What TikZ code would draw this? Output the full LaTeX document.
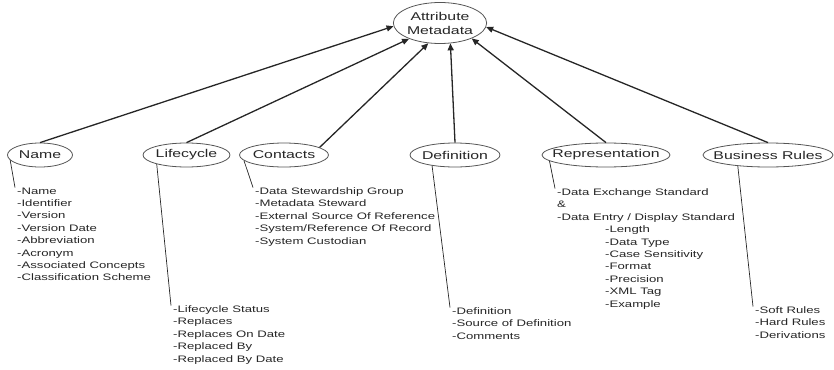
\documentclass[tikz,border=0pt]{standalone}
\usepackage{fontspec}
\setmainfont{Liberation Sans}[FakeStretch=1.4]
\usetikzlibrary{shapes.geometric,arrows.meta}
\definecolor{inkgray}{HTML}{262626}
\definecolor{rimgray}{HTML}{555555}
\newcommand{\ellabel}[1]{\makebox[0pt]{#1}}

\begin{document}
\begin{tikzpicture}[x=1pt,y=-1pt,
    facet/.style={ellipse, draw=rimgray, line width=0.8pt, inner sep=0pt, minimum height=24pt,
      font=\fontsize{11.3}{14}\selectfont, text=inkgray},
    items/.style={anchor=north west, align=left, inner xsep=2pt, inner ysep=0pt,
      font=\fontsize{9.4}{12.4}\selectfont, text=inkgray},
    feeds/.style={-{Triangle[length=7pt,width=6pt]}, line width=1.3pt, draw=inkgray},
    leader/.style={line width=0.7pt, draw=inkgray}]
    \useasboundingbox (0,0) rectangle (834,369);

    \node[facet, minimum width=87pt, minimum height=41pt, align=center] (attr) at (440,23) {Attribute\\Metadata};

    \node[facet, minimum width=65pt] (name) at (40,155) {\ellabel{Name}};
    \node[facet, minimum width=87pt] (life) at (186.5,155) {\ellabel{Lifecycle}};
    \node[facet, minimum width=89pt] (cont) at (284,155) {\ellabel{Contacts}};
    \node[facet, minimum width=90pt] (defn) at (455,155) {\ellabel{Definition}};
    \node[facet, minimum width=128pt] (repr) at (606,155) {\ellabel{Representation}};
    \node[facet, minimum width=130pt] (rule) at (768,155) {\ellabel{Business Rules}};

    \draw[feeds] (name.north) -- (attr.184);
    \draw[feeds] (life.north) -- (attr.207);
    \draw[feeds] (cont.12) -- (attr.240);
    \draw[feeds] (defn.north) -- (attr.297);
    \draw[feeds] (repr.north) -- (attr.334);
    \draw[feeds] (rule.north) -- (attr.355);

    \node[items] (namelist) at (15,187.5) {-Name\\-Identifier\\-Version\\-Version Date\\-Abbreviation\\-Acronym\\-Associated Concepts\\-Classification Scheme};
    \node[items] (lifelist) at (171,305.5) {-Lifecycle Status\\-Replaces\\-Replaces On Date\\-Replaced By\\-Replaced By Date};
    \node[items] (contlist) at (253,187.5) {-Data Stewardship Group\\-Metadata Steward\\-External Source Of Reference\\-System/Reference Of Record\\-System Custodian};
    \node[items] (defnlist) at (450,307.5) {-Definition\\-Source of Definition\\-Comments};
    \node[items] (reprlist) at (555,188.5) {-Data Exchange Standard\\\&\\-Data Entry / Display Standard\\
      \hspace*{48pt}-Length\\\hspace*{48pt}-Data Type\\\hspace*{48pt}-Case Sensitivity\\\hspace*{48pt}-Format\\
      \hspace*{48pt}-Precision\\\hspace*{48pt}-XML Tag\\\hspace*{48pt}-Example};
    \node[items] (rulelist) at (753,306.5) {-Soft Rules\\-Hard Rules\\-Derivations};

    \draw[leader] (name.190) -- (namelist.north west);
    \draw[leader] (life.197) -- (lifelist.north west);
    \draw[leader] (cont.188) -- (contlist.north west);
    \draw[leader] (defn.205) -- (defnlist.north west);
    \draw[leader] (repr.186) -- (reprlist.north west);
    \draw[leader] (rule.200) -- (rulelist.north west);
\end{tikzpicture}
\end{document}
